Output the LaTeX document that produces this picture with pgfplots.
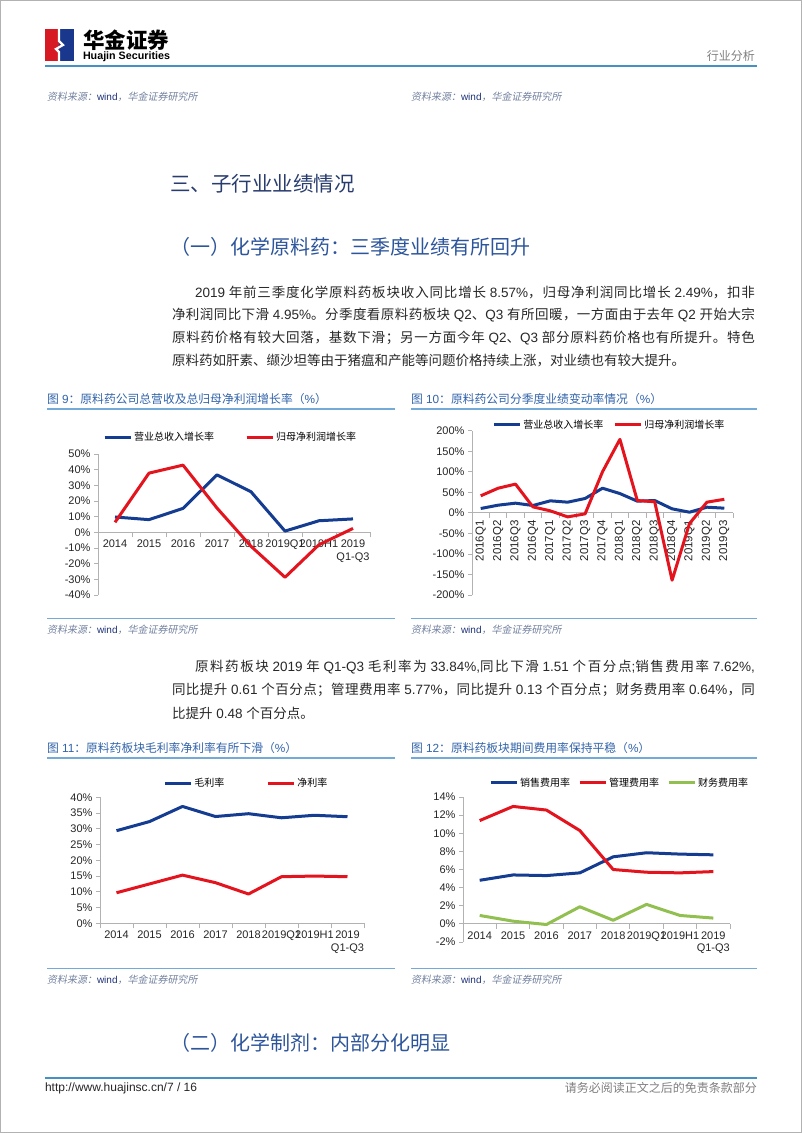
\documentclass[border=0pt]{standalone}
\usepackage{fontspec}
\usepackage{graphicx}
\usepackage{xcolor}
\usepackage{pgfplots}
\pgfplotsset{compat=1.18}
\setmainfont{Liberation Sans}
\newfontfamily\latf{Liberation Sans}
\newfontfamily\cjkup{Noto Sans CJK SC}
\newfontfamily\cjkit{Noto Sans CJK SC}[FakeSlant=0.18]
\let\cjkcur\cjkup
\newcommand\cjkf{\cjkcur}
\let\cjkglue\relax
\newXeTeXintercharclass\CJKcls
\makeatletter
\def\setcjkrange#1#2{\count@=#1\relax\loop\XeTeXcharclass\count@=\CJKcls\relax\advance\count@\@ne\ifnum\count@<#2\relax\repeat}
\setcjkrange{"4E00}{"A000}
\setcjkrange{"3000}{"3040}
\setcjkrange{"FF00}{"FFF0}
\makeatother
\XeTeXinterchartoks 0 \CJKcls = {\cjkf}
\XeTeXinterchartoks 4095 \CJKcls = {\cjkf}
\XeTeXinterchartoks \CJKcls 0 = {\latf}
\XeTeXinterchartoks \CJKcls 4095 = {\latf}
\XeTeXinterchartoks \CJKcls \CJKcls = {\cjkglue}
\newcommand\J[2]{\makebox[#1pt][s]{\def\cjkglue{\hskip 0pt plus 1fil}#2}}

\definecolor{logored}{RGB}{215,25,35}
\definecolor{logoblue}{RGB}{25,55,140}
\definecolor{hdrblue}{RGB}{70,145,195}
\definecolor{capcol}{RGB}{50,100,170}
\definecolor{caplin}{RGB}{115,170,215}
\definecolor{h1col}{RGB}{40,60,110}
\definecolor{h2col}{RGB}{45,85,155}
\definecolor{srcgray}{RGB}{115,130,160}
\definecolor{srcblue}{RGB}{30,50,120}
\definecolor{lineblue}{RGB}{20,60,145}
\definecolor{linered}{RGB}{228,20,30}
\definecolor{linegreen}{RGB}{146,192,80}
\definecolor{bodytext}{RGB}{40,40,40}

\newcommand\src{{\let\cjkcur\cjkit\fontsize{10}{12}\selectfont\color{srcgray}资料来源：\textcolor{srcblue}{wind}，华金证券研究所}}
\newcommand\body{\fontsize{13.5}{16}\selectfont\color{bodytext}}
\newcommand\capt{\fontsize{11.8}{14}\selectfont\color{capcol}}

\pgfplotsset{
 mychart/.style={
  scale only axis, anchor=south west,
  axis x line=middle, axis y line=left,
  axis line style={draw=gray!60, line width=0.8pt, -},
  enlargelimits=false, clip=false,
  tick align=outside,
  major tick length=4pt, minor tick length=5pt,
  tick style={draw=gray!60, line width=0.8pt},
  every major x tick/.style={draw=none},
  tick label style={font=\fontsize{11}{12.5}\selectfont, text=black!85},
  legend columns=-1,
  legend style={draw=none, fill=none, anchor=west, font=\fontsize{10}{12}\selectfont, inner sep=0pt},
  legend cell align=left,
  legend image code/.code={\draw[##1] (0pt,0pt) -- (26pt,0pt);},
  every axis plot/.append style={line width=3pt, line join=round, mark=none},
 }
}

\begin{document}
\XeTeXinterchartokenstate=1
\begin{tikzpicture}[x=1pt,y=1pt, T/.style={inner sep=0pt, outer sep=0pt, anchor=west}]
\path[use as bounding box] (0,0) rectangle (802,-1133);
\fill[white] (0,0) rectangle (802,-1133);
\draw[gray!60, line width=1pt] (0.5,-0.5) rectangle (801.5,-1132.5);

% header
\fill[logored] (45,-29) rectangle (59,-61);
\fill[logoblue] (59,-29) rectangle (74,-61);
\draw[white, line width=2.2pt] (59,-29) -- (59,-41) -- (63,-45) -- (56,-49) -- (59,-52) -- (59,-61);
\node[T] at (83,-40) {\fontsize{21.5}{21.5}\selectfont\bfseries 华金证券};
\node[T] at (83,-57) {\resizebox{87pt}{!}{\fontsize{11}{11}\selectfont\bfseries Huajin Securities}};
\node[inner sep=0pt, anchor=east] at (755,-56) {\fontsize{12}{12}\selectfont\color{gray} 行业分析};
\draw[hdrblue, line width=1.8pt] (45,-66) -- (757,-66);
\node[T] at (47,-97) {\src};
\node[T] at (411,-97) {\src};

% headings
\node[T] at (170,-184) {\fontsize{20.5}{24}\selectfont\color{h1col}三、子行业业绩情况};
\node[T] at (170,-247) {\fontsize{20}{24}\selectfont\color{h2col}（一）化学原料药：三季度业绩有所回升};

% paragraph 1
\node[T] at (195,-292) {\body\J{560}{2019 年前三季度化学原料药板块收入同比增长 8.57\%，归母净利润同比增长 2.49\%，扣非}};
\node[T] at (172,-315) {\body\J{583}{净利润同比下滑 4.95\%。分季度看原料药板块 Q2、Q3 有所回暖，一方面由于去年 Q2 开始大宗}};
\node[T] at (172,-338) {\body\J{583}{原料药价格有较大回落，基数下滑；另一方面今年 Q2、Q3 部分原料药价格也有所提升。特色}};
\node[T] at (172,-361) {\body 原料药如肝素、缬沙坦等由于猪瘟和产能等问题价格持续上涨，对业绩也有较大提升。};

% captions row 1
\node[T] at (47,-399) {\capt 图 9：原料药公司总营收及总归母净利润增长率（\%）};
\node[T] at (411,-399) {\capt 图 10：原料药公司分季度业绩变动率情况（\%）};
\draw[caplin, line width=1.6pt] (47,-409) -- (395,-409);
\draw[caplin, line width=1.6pt] (411,-409) -- (757,-409);
\draw[caplin, line width=1pt] (47,-618) -- (395,-618);
\draw[caplin, line width=1pt] (411,-618) -- (757,-618);
\node[T] at (47,-630) {\src};
\node[T] at (411,-630) {\src};

% paragraph 2
\node[T] at (195,-667) {\body\J{560}{原料药板块 2019 年 Q1-Q3 毛利率为 33.84\%,同比下滑 1.51 个百分点;销售费用率 7.62\%,}};
\node[T] at (172,-690) {\body\J{583}{同比提升 0.61 个百分点；管理费用率 5.77\%，同比提升 0.13 个百分点；财务费用率 0.64\%，同}};
\node[T] at (172,-713) {\body 比提升 0.48 个百分点。};

% captions row 2
\node[T] at (47,-748) {\capt 图 11：原料药板块毛利率净利率有所下滑（\%）};
\node[T] at (411,-748) {\capt 图 12：原料药板块期间费用率保持平稳（\%）};
\draw[caplin, line width=1.6pt] (47,-758) -- (395,-758);
\draw[caplin, line width=1.6pt] (411,-758) -- (757,-758);
\draw[caplin, line width=1pt] (47,-968) -- (395,-968);
\draw[caplin, line width=1pt] (411,-968) -- (757,-968);
\node[T] at (47,-980) {\src};
\node[T] at (411,-980) {\src};

\node[T] at (170,-1043) {\fontsize{20}{24}\selectfont\color{h2col}（二）化学制剂：内部分化明显};

% footer
\draw[hdrblue, line width=1.5pt] (45,-1078) -- (757,-1078);
\node[T] at (45,-1088) {\fontsize{12}{12}\selectfont\color{black!85}http://www.huajinsc.cn/7 / 16};
\node[inner sep=0pt, anchor=east] at (757,-1088) {\fontsize{12}{12}\selectfont\color{gray}请务必阅读正文之后的免责条款部分};

% chart 9
\begin{axis}[mychart, at={(98pt,-595pt)}, width=272pt, height=141pt,
  xmin=-0.5, xmax=7.5, ymin=-40, ymax=50,
  xtick={0,...,7}, xticklabels={2014,2015,2016,2017,2018,2019Q1,2019H1,{2019\\Q1-Q3}},
  xticklabel style={align=center},
  minor xtick={-0.5,0.5,...,7.5},
  ytick={-40,-30,...,50}, yticklabels={-40\%,-30\%,-20\%,-10\%,0\%,10\%,20\%,30\%,40\%,50\%},
  legend style={at={(0.018,1.12)}, /tikz/every even column/.append style={column sep=29pt}}]
\addplot[lineblue] coordinates {(0,9.8) (1,8.1) (2,15.3) (3,36.7) (4,25.9) (5,0.8) (6,7.4) (7,8.57)};
\addlegendentry{营业总收入增长率}
\addplot[linered] coordinates {(0,6.4) (1,37.8) (2,42.9) (3,15.5) (4,-8.9) (5,-28.7) (6,-7.9) (7,2.49)};
\addlegendentry{归母净利润增长率}
\end{axis}

% chart 10
\begin{axis}[mychart, at={(472pt,-595pt)}, width=261pt, height=164.3pt,
  xmin=-0.5, xmax=14.5, ymin=-200, ymax=200,
  xtick={0,...,14}, xticklabels={2016Q1,2016Q2,2016Q3,2016Q4,2017Q1,2017Q2,2017Q3,2017Q4,2018Q1,2018Q2,2018Q3,2018Q4,2019Q1,2019Q2,2019Q3},
  xticklabel style={rotate=90, anchor=east, font=\fontsize{11.5}{12.5}\selectfont},
  minor xtick={-0.5,0.5,...,14.5},
  ytick={-200,-150,...,200}, yticklabels={-200\%,-150\%,-100\%,-50\%,0\%,50\%,100\%,150\%,200\%},
  legend style={at={(0.077,1.035)}, /tikz/every even column/.append style={column sep=8pt}}]
\addplot[lineblue] coordinates {(0,10.6) (1,18.7) (2,23.6) (3,17.9) (4,29.3) (5,26) (6,35) (7,60) (8,47) (9,28.5) (10,30) (11,9.8) (12,1.6) (13,13.8) (14,11.4)};
\addlegendentry{营业总收入增长率}
\addplot[linered] coordinates {(0,41.5) (1,60) (2,70) (3,14.6) (4,4.9) (5,-9.8) (6,-2.4) (7,100) (8,179) (9,30) (10,27) (11,-164) (12,-26) (13,26) (14,33)};
\addlegendentry{归母净利润增长率}
\end{axis}

% chart 11
\begin{axis}[mychart, at={(100pt,-923.3pt)}, width=264pt, height=126pt,
  xmin=-0.5, xmax=7.5, ymin=0, ymax=40,
  xtick={0,...,7}, xticklabels={2014,2015,2016,2017,2018,2019Q1,2019H1,{2019\\Q1-Q3}},
  xticklabel style={align=center},
  minor xtick={-0.5,0.5,...,7.5},
  ytick={0,5,...,40}, yticklabels={0\%,5\%,10\%,15\%,20\%,25\%,30\%,35\%,40\%},
  legend style={at={(0.239,1.113)}, /tikz/every even column/.append style={column sep=40pt}}]
\addplot[lineblue] coordinates {(0,29.4) (1,32.3) (2,37.1) (3,33.9) (4,34.8) (5,33.5) (6,34.3) (7,33.84)};
\addlegendentry{毛利率}
\addplot[linered] coordinates {(0,9.7) (1,12.5) (2,15.3) (3,12.9) (4,9.3) (5,14.8) (6,15.0) (7,14.8)};
\addlegendentry{净利率}
\end{axis}

% chart 12
\begin{axis}[mychart, at={(463pt,-942pt)}, width=267pt, height=145pt,
  xmin=-0.5, xmax=7.5, ymin=-2, ymax=14,
  xtick={0,...,7}, xticklabels={2014,2015,2016,2017,2018,2019Q1,2019H1,{2019\\Q1-Q3}},
  xticklabel style={align=center},
  minor xtick={-0.5,0.5,...,7.5},
  ytick={-2,0,...,14}, yticklabels={-2\%,0\%,2\%,4\%,6\%,8\%,10\%,12\%,14\%},
  legend style={at={(0.097,1.097)}, /tikz/every even column/.append style={column sep=6pt}}]
\addplot[lineblue] coordinates {(0,4.81) (1,5.4) (2,5.33) (3,5.63) (4,7.4) (5,7.85) (6,7.7) (7,7.62)};
\addlegendentry{销售费用率}
\addplot[linered] coordinates {(0,11.4) (1,12.96) (2,12.56) (3,10.3) (4,6.0) (5,5.7) (6,5.63) (7,5.77)};
\addlegendentry{管理费用率}
\addplot[linegreen] coordinates {(0,0.93) (1,0.3) (2,-0.07) (3,1.89) (4,0.4) (5,2.15) (6,0.93) (7,0.64)};
\addlegendentry{财务费用率}
\end{axis}
\end{tikzpicture}
\end{document}
